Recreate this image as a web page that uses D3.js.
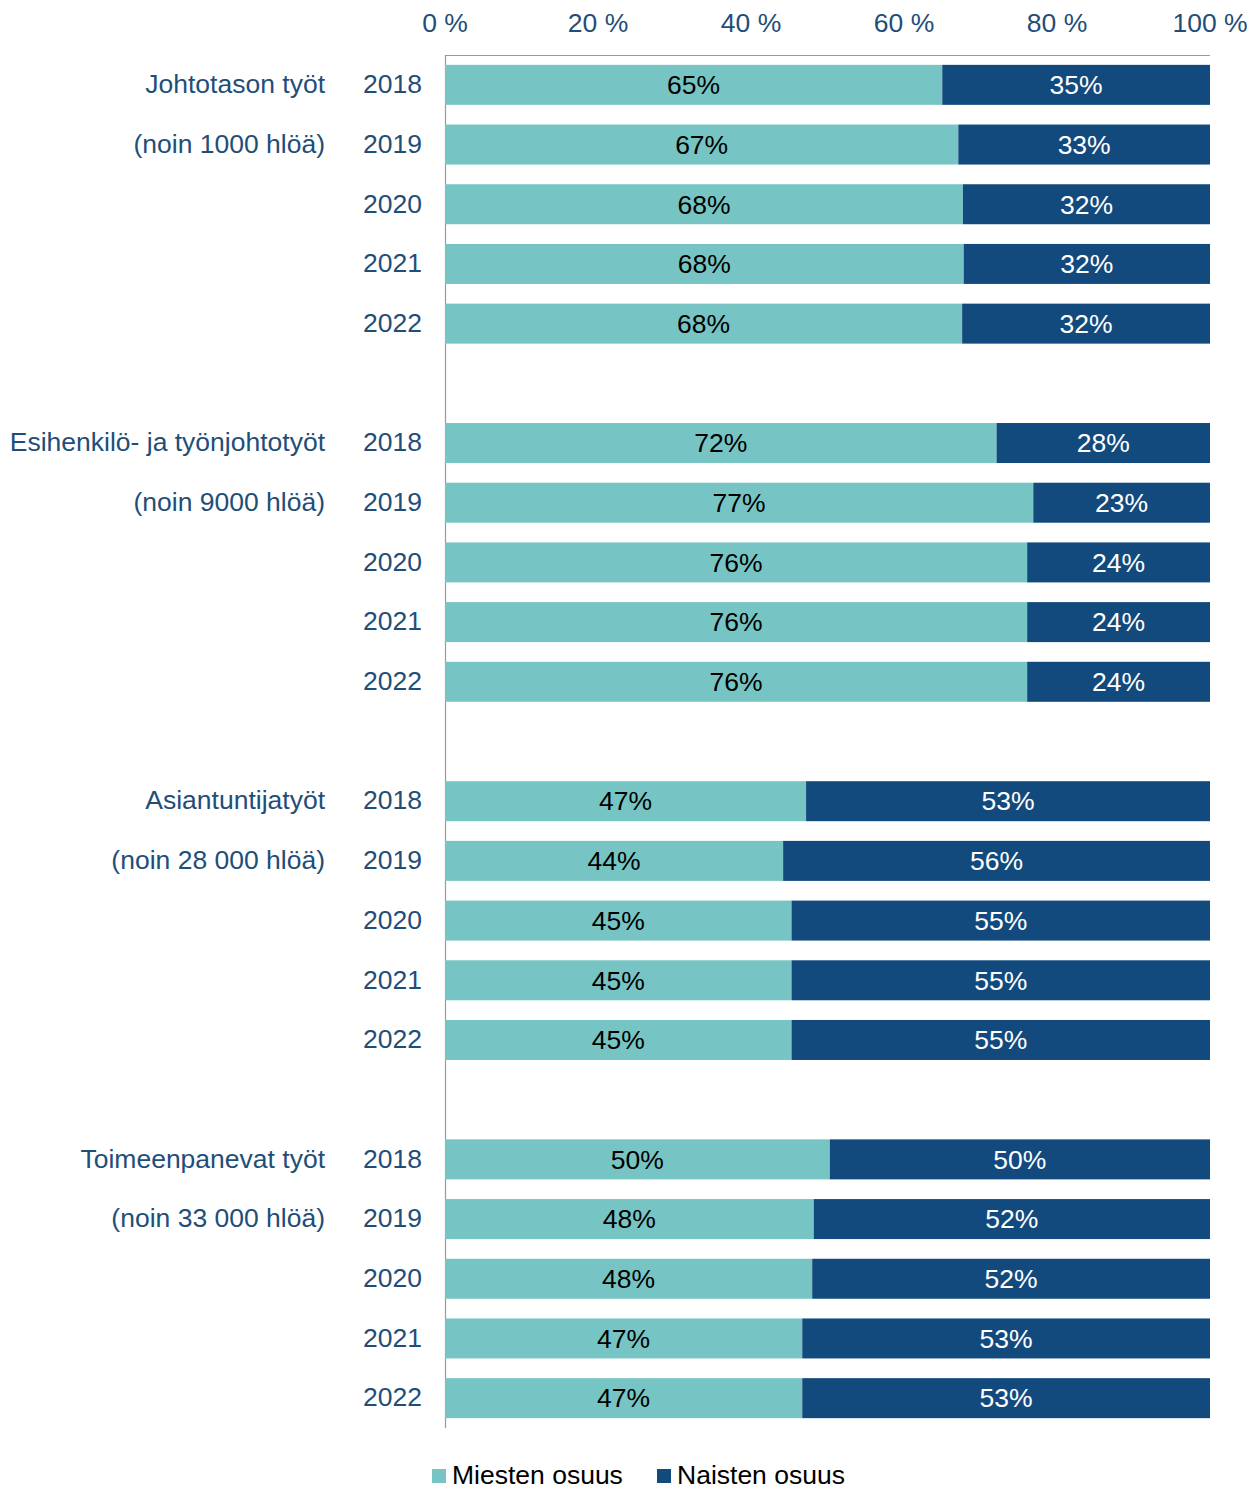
<!DOCTYPE html>
<html><head><meta charset="utf-8">
<script src="https://cdn.jsdelivr.net/npm/d3@7"></script>
<style>body{margin:0;background:#fff}svg{display:block}text{font-family:"Liberation Sans",Arial,sans-serif}</style>
</head><body>
<svg id="c" width="1259" height="1490"></svg>
<script>
const groups = ["Johtotason työt","Esihenkilö- ja työnjohtotyöt","Asiantuntijatyöt","Toimeenpanevat työt"];
const groupSizes = ["(noin 1000 hlöä)","(noin 9000 hlöä)","(noin 28 000 hlöä)","(noin 33 000 hlöä)"];
const years = ["2018","2019","2020","2021","2022"];
const menShare = [
  [65.0,67.1,67.7,67.8,67.6],
  [72.1,76.9,76.1,76.1,76.1],
  [47.2,44.2,45.3,45.3,45.3],
  [50.3,48.2,48.0,46.7,46.7]
];
const menLabels = [["65%","67%","68%","68%","68%"],["72%","77%","76%","76%","76%"],["47%","44%","45%","45%","45%"],["50%","48%","48%","47%","47%"]];
const womenLabels = [["35%","33%","32%","32%","32%"],["28%","23%","24%","24%","24%"],["53%","56%","55%","55%","55%"],["50%","52%","52%","53%","53%"]];
const ticks = [0,20,40,60,80,100];
const seriesNames = ["Miesten osuus","Naisten osuus"];
const colors = ["#76C5C4","#124A7E"];
const textBlue = "#1F4E79";
const fs = 26.5;

const rows = [];
groups.forEach((g,gi)=>{
  years.forEach((y,yi)=>rows.push({key:gi+"-"+yi,gi,yi,year:y,men:menShare[gi][yi],ml:menLabels[gi][yi],wl:womenLabels[gi][yi]}));
  if(gi<groups.length-1) rows.push({key:"gap"+gi,gap:true});
});
const svg = d3.select("#c");
const x = d3.scaleLinear().domain([0,100]).range([445,1210]);
const y = d3.scaleBand().domain(rows.map(r=>r.key)).range([55,1428]).paddingInner(0.33).paddingOuter(0.165);
const dy = 9.3;

svg.append("line").attr("x1",x(0)).attr("x2",x(100)).attr("y1",55.5).attr("y2",55.5).attr("stroke","#999").attr("stroke-width",1.2);
svg.append("line").attr("x1",445.5).attr("x2",445.5).attr("y1",55).attr("y2",1428).attr("stroke","#999").attr("stroke-width",1.2);

svg.selectAll(".tick").data(ticks).join("text").attr("x",d=>x(d)).attr("y",31.5)
  .attr("text-anchor","middle").attr("font-size",fs).attr("fill",textBlue).text(d=>d+" %");

const data = rows.filter(r=>!r.gap);
const g = svg.append("g");
g.selectAll(".m").data(data).join("rect").attr("x",x(0)).attr("y",d=>y(d.key)).attr("width",d=>x(d.men)-x(0)).attr("height",y.bandwidth()).attr("fill",colors[0]);
g.selectAll(".w").data(data).join("rect").attr("x",d=>x(d.men)).attr("y",d=>y(d.key)).attr("width",d=>x(100)-x(d.men)).attr("height",y.bandwidth()).attr("fill",colors[1]);
g.selectAll(".ml").data(data).join("text").attr("x",d=>(x(0)+x(d.men))/2).attr("y",d=>y(d.key)+y.bandwidth()/2+dy)
  .attr("text-anchor","middle").attr("font-size",fs).attr("fill","#000").text(d=>d.ml);
g.selectAll(".wl").data(data).join("text").attr("x",d=>(x(d.men)+x(100))/2).attr("y",d=>y(d.key)+y.bandwidth()/2+dy)
  .attr("text-anchor","middle").attr("font-size",fs).attr("fill","#fff").text(d=>d.wl);
g.selectAll(".yl").data(data).join("text").attr("x",422).attr("y",d=>y(d.key)+y.bandwidth()/2+dy-1)
  .attr("text-anchor","end").attr("font-size",fs).attr("fill",textBlue).text(d=>d.year);
g.selectAll(".gl").data(data.filter(d=>d.yi===0)).join("text").attr("x",325).attr("y",d=>y(d.key)+y.bandwidth()/2+dy-1)
  .attr("text-anchor","end").attr("font-size",fs).attr("fill",textBlue).text(d=>groups[d.gi]);
g.selectAll(".gs").data(data.filter(d=>d.yi===1)).join("text").attr("x",325).attr("y",d=>y(d.key)+y.bandwidth()/2+dy-1)
  .attr("text-anchor","end").attr("font-size",fs).attr("fill",textBlue).text(d=>groupSizes[d.gi]);

const legX = [432,657];
const lg = svg.selectAll(".lg").data(seriesNames).join("g").attr("transform",(d,i)=>`translate(${legX[i]},1469)`);
lg.append("rect").attr("width",14).attr("height",14).attr("fill",(d,i)=>colors[i]);
lg.append("text").attr("x",20).attr("y",15).attr("font-size",fs).attr("fill","#000").text(d=>d);
</script>
</body></html>
